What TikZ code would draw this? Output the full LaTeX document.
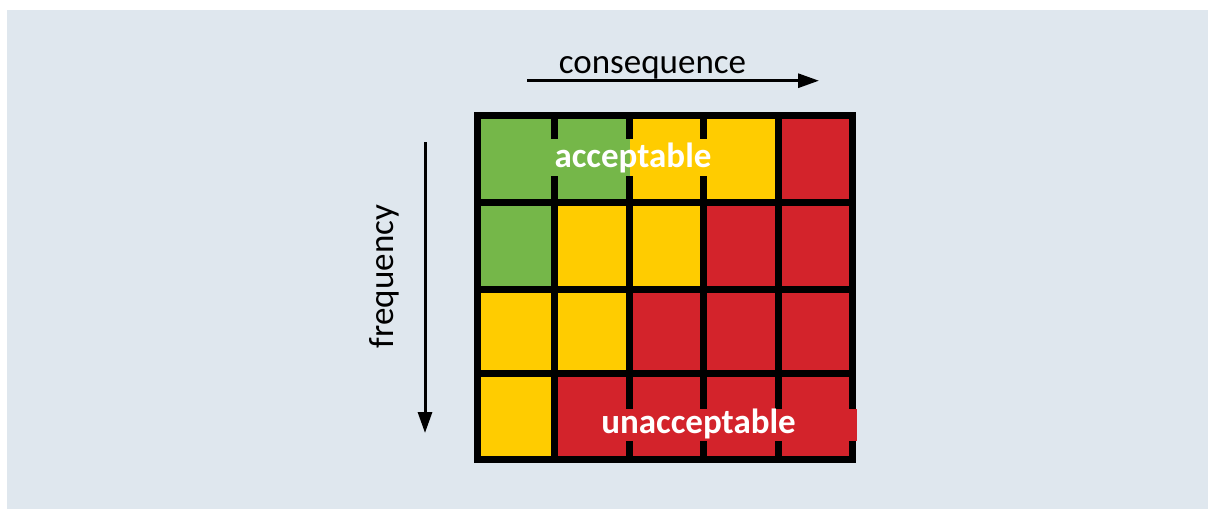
\documentclass[tikz,border=0pt]{standalone}
\usepackage{fontspec}
\setmainfont{Carlito}
\usetikzlibrary{arrows.meta}
\definecolor{bg}{RGB}{223,231,238}
\definecolor{cgreen}{RGB}{117,183,73}
\definecolor{cyellow}{RGB}{255,204,0}
\definecolor{cred}{RGB}{211,35,43}
\begin{document}
\begin{tikzpicture}[x=1pt,y=-1pt,
  gridline/.style={line width=7pt},
  axis/.style={line width=3pt,-{Triangle[length=21pt,width=14pt]}},
  axislabel/.style={font=\fontsize{35}{40}\selectfont, inner sep=0pt},
  zonelabel/.style={font=\fontsize{35}{40}\selectfont\bfseries, text=white, inner sep=0pt}]
\useasboundingbox (0,0) rectangle (1208,509);
\fill[bg] (7,10) rectangle (1208,509);
% cells
\fill[cgreen]  (477.7,115.5) rectangle (629,202);
\fill[cyellow] (629,115.5) rectangle (778.5,202);
\fill[cred]    (778.5,115.5) rectangle (852.7,202);
\fill[cgreen]  (477.7,202) rectangle (554,289);
\fill[cyellow] (554,202) rectangle (703.5,289);
\fill[cred]    (703.5,202) rectangle (852.7,289);
\fill[cyellow] (477.7,289) rectangle (629,373.5);
\fill[cred]    (629,289) rectangle (852.7,373.5);
\fill[cyellow] (477.7,373.5) rectangle (554,459.7);
\fill[cred]    (554,373.5) rectangle (852.7,459.7);
% grid
\draw[gridline] (477.7,115.5) rectangle (852.7,459.7);
\foreach \x in {554,629,703.5,778.5}
  \draw[gridline] (\x,115.5) -- (\x,459.7);
\foreach \y in {202,289,373.5}
  \draw[gridline] (477.7,\y) -- (852.7,\y);
% label bands
\fill[cgreen]  (545,139) rectangle (630,176);
\fill[cyellow] (630,139) rectangle (721,176);
\fill[cred]    (575,409) rectangle (857,441);
% labels
\node[zonelabel, anchor=base] (acc) at (633,167) {acceptable};
\node[zonelabel, anchor=base] (unacc) at (698.5,433) {unacceptable};
\node[axislabel, anchor=base] (cons) at (652.5,73) {consequence};
\node[axislabel, anchor=base, rotate=90] (freq) at (393,276.5) {frequency};
% axes
\coordinate (c0) at (527,80.7);
\coordinate (c1) at (819,80.7);
\draw[axis] (c0) -- (c1);
\coordinate (f0) at (425,142);
\coordinate (f1) at (425,433);
\draw[axis] (f0) -- (f1);
\end{tikzpicture}
\end{document}
